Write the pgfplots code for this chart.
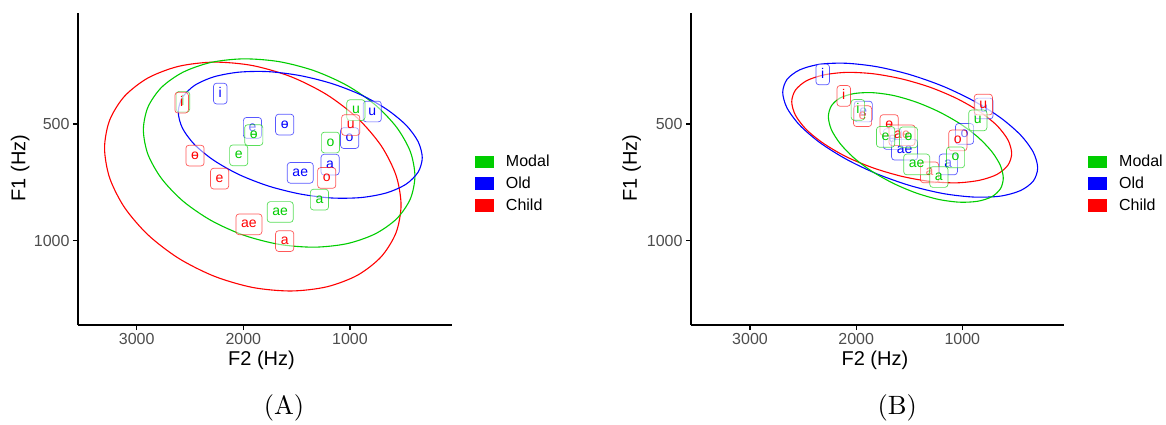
\documentclass[border=0pt]{standalone}
\usepackage{fontspec}
\usepackage{pgfplots}
\pgfplotsset{compat=1.18}
\newfontfamily\lsans{Liberation Sans}
\newfontfamily\lmten[Extension=.otf]{lmroman10-regular}
\definecolor{cgreen}{RGB}{0,205,0}
\definecolor{cblue}{RGB}{0,0,255}
\definecolor{cred}{RGB}{255,0,0}
\definecolor{gray30}{RGB}{77,77,77}
\pgfplotsset{
  vowelaxis/.style={
    scale only axis, height=312.3pt, clip=false,
    axis lines=left, axis line style={-, line width=1.3pt, black},
    x filter/.expression={-x}, y filter/.expression={-y},
    ymin=-1362, ymax=-22,
    xtick={-3000,-2000,-1000}, xticklabels={3000,2000,1000},
    ytick={-1000,-500}, yticklabels={1000,500},
    tick align=outside, major tick length=5pt,
    tick style={line width=1.3pt, black},
    /pgf/number format/assume math mode=true,
    tick label style={font=\lsans\fontsize{16}{19}\selectfont, text=gray30},
    xlabel={F2 (Hz)}, ylabel={F1 (Hz)},
    legend style={anchor=west, draw=none, fill=none, inner sep=0pt,
      row sep=8.5pt, font=\lsans\fontsize{16}{19}\selectfont,
      nodes={inner sep=0pt}, /tikz/every odd column/.append style={column sep=13pt}},
    legend cell align=left,
  },
  lab/.style={only marks, mark=none, forget plot, point meta=explicit symbolic,
    nodes near coords,
    every node near coord/.append style={anchor=center, font=\lsans\fontsize{14}{16}\selectfont,
      text=#1, draw=#1, draw opacity=0.65, fill=white, fill opacity=0.5, text opacity=1,
      rounded corners=3pt, inner xsep=5.2pt, inner ysep=3.6pt,
      text height=10.3pt, text depth=3.2pt, line width=0.7pt}},
  ell/.style={draw=#1, line width=1.1pt, smooth cycle, mark=none, forget plot},
  sw/.style={legend image code/.code={\fill[#1] (0pt,-5.85pt) rectangle (17.7pt,5.85pt);}},
}
\begin{document}
\begin{tikzpicture}
\path[use as bounding box] (0pt,0pt) rectangle (1166pt,-424pt);
% ---------------- Panel A ----------------
\begin{axis}[vowelaxis, at={(78pt,-325pt)}, anchor=south west, width=373.7pt,
  xmin=-3550, xmax=-46,
  every axis x label/.style={at={(axis description cs:0.491,-0.1122)}, anchor=center, font=\lsans\fontsize{20}{24}\selectfont},
  every axis y label/.style={at={(axis description cs:-0.155,0.503)}, anchor=center, rotate=90, font=\lsans\fontsize{20}{24}\selectfont},
  legend style={at={(axis description cs:1.0615,0.4535)}}]
\addlegendimage{sw=cgreen}\addlegendentry{Modal}
\addlegendimage{sw=cblue}\addlegendentry{Old}
\addlegendimage{sw=cred}\addlegendentry{Child}
\addplot[lab=cblue] coordinates {(2216,369)[i] (1914,516)[e] (1612,502)[ɵ] (1466,709)[ae] (1186,674)[a] (1003,560)[o] (791,446)[u]};
\addplot[lab=cgreen] coordinates {(2566,404)[i] (1902,547)[ɵ] (2043,634)[e] (1654,877)[ae] (1286,824)[a] (1183,579)[o] (944,440)[u]};
\addplot[lab=cred] coordinates {(2578,408)[i] (2453,635)[ɵ] (2222,734)[e] (1947,930)[ae] (1612,1002)[a] (1218,731)[o] (993,504)[u]};
\addplot[ell=cred] coordinates {(521,847) (568,966) (707,1069) (928,1148) (1216,1198) (1551,1216) (1911,1201) (2271,1153) (2606,1076) (2894,975) (3115,857) (3254,730) (3301,603) (3254,484) (3115,381) (2894,302) (2606,252) (2271,234) (1911,249) (1551,297) (1216,374) (928,475) (707,593) (568,720)};
\addplot[ell=cgreen] coordinates {(391,723) (434,821) (562,906) (764,971) (1028,1013) (1335,1028) (1664,1016) (1994,977) (2300,914) (2564,831) (2766,734) (2894,630) (2937,525) (2894,427) (2766,342) (2564,277) (2300,235) (1994,220) (1664,232) (1335,271) (1028,334) (764,417) (562,514) (434,618)};
\addplot[ell=cblue] coordinates {(322,644) (361,706) (475,758) (657,795) (894,815) (1170,817) (1466,800) (1762,766) (2038,717) (2275,656) (2457,588) (2571,517) (2610,448) (2571,386) (2457,334) (2275,297) (2038,277) (1762,275) (1466,292) (1170,326) (894,375) (657,436) (475,504) (361,575)};
\node[font=\lmten\fontsize{26.5}{31}\selectfont] at (axis description cs:0.5513,-0.266) {(A)};
\end{axis}
% ---------------- Panel B ----------------
\begin{axis}[vowelaxis, at={(691pt,-325pt)}, anchor=south west, width=373pt,
  xmin=-3556, xmax=-42,
  every axis x label/.style={at={(axis description cs:0.493,-0.1122)}, anchor=center, font=\lsans\fontsize{20}{24}\selectfont},
  every axis y label/.style={at={(axis description cs:-0.159,0.503)}, anchor=center, rotate=90, font=\lsans\fontsize{20}{24}\selectfont},
  legend style={at={(axis description cs:1.064,0.4535)}}]
\addlegendimage{sw=cgreen}\addlegendentry{Modal}
\addlegendimage{sw=cblue}\addlegendentry{Old}
\addlegendimage{sw=cred}\addlegendentry{Child}
\addplot[lab=cblue] coordinates {(2315,287)[i] (1933,446)[e] (1658,564)[ɵ] (1544,610)[ae] (1132,673)[a] (979,542)[o] (796,433)[u]};
\addplot[lab=cred] coordinates {(2117,379)[i] (1940,466)[e] (1689,504)[ɵ] (1568,548)[ae] (1309,707)[a] (1042,570)[o] (802,416)[u]};
\addplot[lab=cgreen] coordinates {(1984,439)[i] (1723,555)[e] (1507,557)[ɵ] (1430,673)[ae] (1221,727)[a] (1064,643)[o] (854,484)[u]};
\addplot[ell=cblue] coordinates {(290,688) (331,744) (451,785) (642,809) (891,813) (1180,798) (1491,764) (1802,714) (2092,651) (2340,580) (2531,505) (2651,431) (2692,364) (2651,308) (2531,267) (2340,243) (2092,239) (1802,254) (1491,288) (1180,338) (891,401) (642,472) (451,547) (331,621)};
\addplot[ell=cred] coordinates {(535,626) (570,676) (674,716) (838,741) (1053,752) (1303,746) (1571,724) (1839,688) (2089,641) (2304,584) (2468,524) (2572,462) (2607,404) (2572,354) (2468,314) (2304,289) (2089,278) (1839,284) (1571,306) (1303,342) (1053,390) (838,446) (674,506) (570,568)};
\addplot[ell=cgreen] coordinates {(614,732) (642,778) (724,812) (855,831) (1026,835) (1225,823) (1438,795) (1651,754) (1850,703) (2021,645) (2152,583) (2234,523) (2262,468) (2234,422) (2152,388) (2021,369) (1850,365) (1651,377) (1438,405) (1225,446) (1026,497) (855,555) (724,617) (642,677)};
\node[font=\lmten\fontsize{26.5}{31}\selectfont] at (axis description cs:0.5528,-0.266) {(B)};
\end{axis}
\end{tikzpicture}
\end{document}
